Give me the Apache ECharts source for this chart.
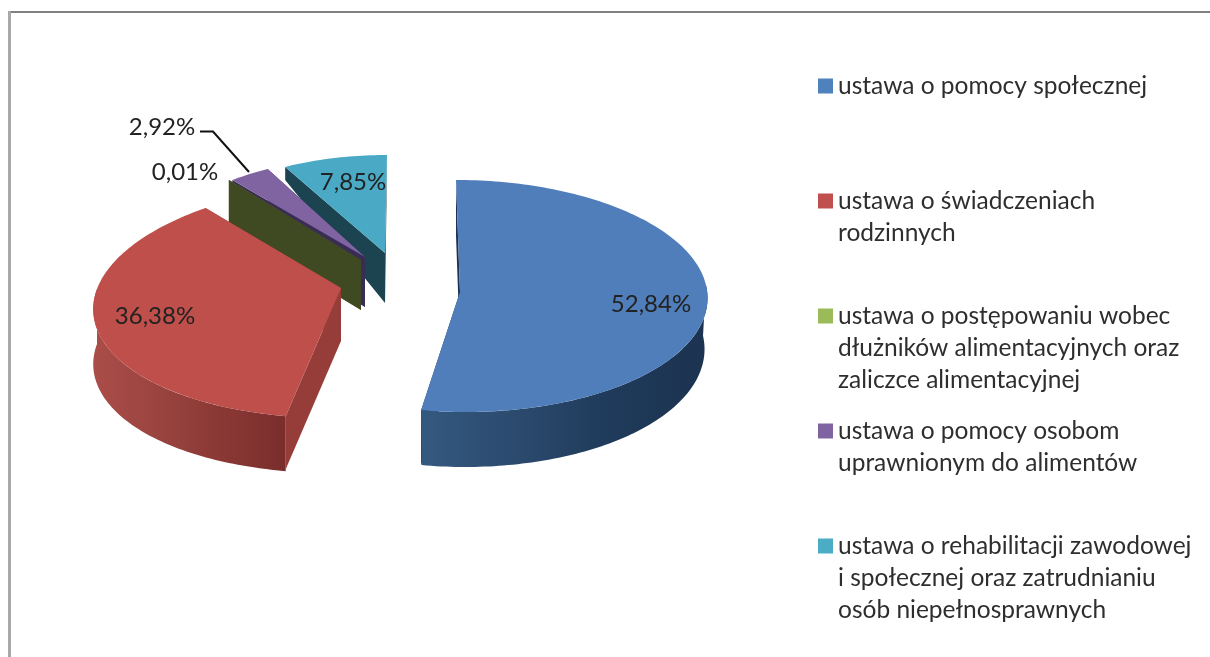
<!DOCTYPE html>
<html>
<head>
<meta charset="utf-8">
<style>
  html, body { margin: 0; padding: 0; background: #fff; }
  #chart-root { width: 1210px; height: 657px; }
</style>
<script src="https://cdn.jsdelivr.net/npm/echarts@6/dist/echarts.min.js"></script>
</head>
<body>
<div id="chart-root"></div>
<script>
const names = [
  "ustawa o pomocy społecznej",
  "ustawa o świadczeniach rodzinnych",
  "ustawa o postępowaniu wobec dłużników alimentacyjnych oraz zaliczce alimentacyjnej",
  "ustawa o pomocy osobom uprawnionym do alimentów",
  "ustawa o rehabilitacji zawodowej i społecznej oraz zatrudnianiu osób niepełnosprawnych"
];
const legendLines = [
  ["ustawa o pomocy społecznej"],
  ["ustawa o świadczeniach", "rodzinnych"],
  ["ustawa o postępowaniu wobec", "dłużników alimentacyjnych oraz", "zaliczce alimentacyjnej"],
  ["ustawa o pomocy osobom", "uprawnionym do alimentów"],
  ["ustawa o rehabilitacji zawodowej", "i społecznej oraz zatrudnianiu", "osób niepełnosprawnych"]
];
const shares = [52.84, 36.38, 0.01, 2.92, 7.85];

const legendColors = ["#4f81bd", "#c0504d", "#9bbb59", "#8064a2", "#4bacc6"];
const topColors = ["#4f7ebb", "#be4f4b", "#9bbb59", "#8064a2", "#4aaac5"];
const sideColors = ["#1b3350", "#963d3a", "#404a22", "#3a2d55", "#1b4350"];
// rim wall shading, left to right
const rimStops = [
  ["#34597f", "#2b4a6e", "#1f3a5a", "#1c3350"],
  ["#ab4d49", "#9a4440", "#8a3835", "#792e2c"]
];

// exploded slices: each has its own apex and ellipse, sx = shear from the perspective,
// low* = ellipse of the bottom edge of the rim
const layout = [
  { ax: 460, ay: 292, ex: 460.5, ey: 296, rx: 247, ry: 116, sx: -4.5, depth: 55, lowRx: 244, lowRy: 120, lowDy: 51, z: 50, label: [651, 304] },
  { ax: 341, ay: 288, ex: 351, ey: 300, rx: 257, ry: 118, sx: 20, depth: 53, lowRx: 257, lowRy: 118, lowDy: 55, z: 40, label: [155, 316] },
  { ax: 361, ay: 260, ex: 373.6, ey: 265, rx: 231, ry: 109, sx: 0, depth: 50, z: 30, label: [185, 172] },
  { ax: 365, ay: 257, ex: 377, ey: 265, rx: 231, ry: 109, sx: 0, depth: 50, z: 20, label: [162, 127] },
  { ax: 385, ay: 253, ex: 387, ey: 255, rx: 215, ry: 100, sx: 0, depth: 50, rimDepth: 13, z: 10, label: [353, 182] }
];
const labelFont = '24px Lato';
const legendFont = { fontFamily: "Lato", fontSize: 24.5, color: "#2e2e2e", lineHeight: 32 };
const legendFirstLineY = [86, 201, 316, 431, 546];

const total = shares.reduce((a, b) => a + b, 0);
function sliceAngles(i) {
  let from = 0;
  for (let k = 0; k < i; k++) from += shares[k];
  return [from / total * 2 * Math.PI, (from + shares[i]) / total * 2 * Math.PI];
}
function rimPoint(l, t) {
  const X = Math.sin(t), Y = Math.cos(t);
  return [l.ex + l.rx * X + l.sx * Y, l.ey - l.ry * Y];
}
function lowPoint(l, t) {
  const X = Math.sin(t), Y = Math.cos(t);
  return [l.ex + l.lowRx * X + l.sx * Y, l.ey + l.lowDy - l.lowRy * Y];
}
function angleSteps(from, to) {
  const steps = Math.max(1, Math.ceil((to - from) / 0.02));
  const out = [];
  for (let s = 0; s <= steps; s++) out.push(from + (to - from) * s / steps);
  return out;
}
function poly(points, fill) {
  return { type: "polygon", shape: { points }, style: { fill } };
}
function wall(l, t, fill) {
  const p = rimPoint(l, t);
  const d = l.rimDepth === undefined ? l.depth : l.rimDepth;
  return poly([p, [l.ax, l.ay], [l.ax, l.ay + l.depth], [p[0], p[1] + d]], fill);
}

function renderSlice(i) {
  return function (params, api) {
    const l = layout[i];
    const [from, to] = sliceAngles(i);
    const children = [];
    children.push(wall(l, from, sideColors[i]));
    children.push(wall(l, to, sideColors[i]));
    // outer rim wall, only the part that faces the viewer
    const a = Math.max(from, Math.PI * 0.47), b = Math.min(to, Math.PI * 1.53);
    if (b > a && rimStops[i]) {
      const ts = angleSteps(a, b);
      const upper = ts.map(t => rimPoint(l, t));
      const lower = ts.map(t => lowPoint(l, t)).reverse();
      children.push(poly(upper.concat(lower), {
        type: "linear", x: 0, y: 0, x2: 1, y2: 0,
        colorStops: rimStops[i].map((c, k) => ({ offset: k / (rimStops[i].length - 1), color: c }))
      }));
    }
    children.push(poly([[l.ax, l.ay]].concat(angleSteps(from, to).map(t => rimPoint(l, t))), topColors[i]));
    if (i === 3) {
      children.push({
        type: "polyline",
        shape: { points: [[200, 131.5], [213, 131.5], [249, 172]] },
        style: { stroke: "#111", lineWidth: 2, fill: "none" }
      });
    }
    children.push({
      type: "text",
      z2: 100,
      style: {
        text: api.value(0).toFixed(2).replace(".", ",") + "%",
        x: l.label[0], y: l.label[1],
        font: labelFont, fill: "#222",
        align: "center", verticalAlign: "middle"
      }
    });
    return { type: "group", children };
  };
}

const chart = echarts.init(document.getElementById("chart-root"));
chart.setOption({
  animation: false,
  backgroundColor: "#fff",
  graphic: [
    { type: "rect", shape: { x: 8, y: 11, width: 1202, height: 2 }, style: { fill: "#808080" } },
    { type: "rect", shape: { x: 8, y: 11, width: 3, height: 646 }, style: { fill: "#a8a8a8" } }
  ],
  // one legend per entry: the entries are unevenly spaced, blank lines keep the swatch on the first line
  legend: names.map((name, i) => ({
    data: [name],
    left: 818,
    top: legendFirstLineY[i] - 16 - (legendLines[i].length - 1) * 32,
    padding: 0,
    orient: "vertical",
    icon: "rect",
    itemWidth: 15,
    itemHeight: 15,
    selectedMode: false,
    textStyle: legendFont,
    formatter: () => "\n".repeat(legendLines[i].length - 1) + legendLines[i].join("\n")
  })),
  series: names.map((name, i) => ({
    type: "custom",
    name,
    coordinateSystem: "none",
    z: layout[i].z,
    silent: true,
    itemStyle: { color: legendColors[i] },
    renderItem: renderSlice(i),
    data: [[shares[i]]]
  }))
});
</script>
</body>
</html>
